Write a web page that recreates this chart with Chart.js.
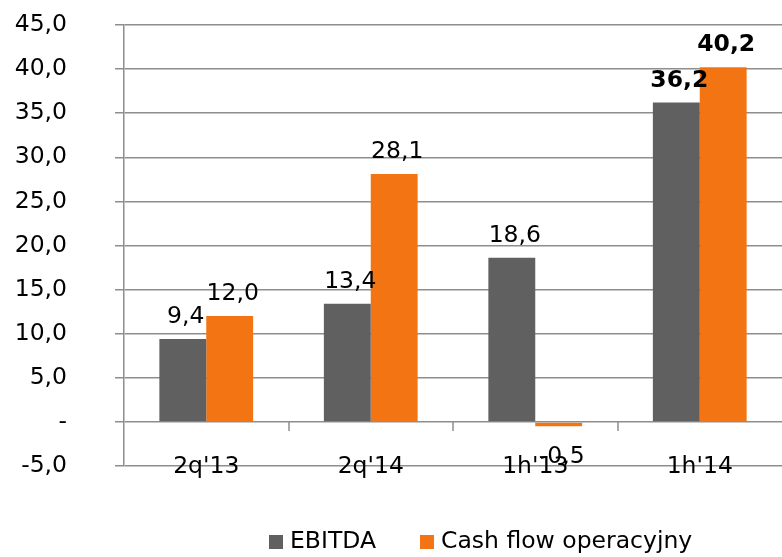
<!doctype html>
<html lang="pl">
<head>
  <meta charset="utf-8">
  <title>EBITDA i Cash flow</title>
  <style>
    html, body { margin: 0; padding: 0; background: #fff; overflow: hidden; }
    #wrap { width: 782px; height: 557px; }
  </style>
</head>
<body>
  <div id="wrap"><canvas id="wykres"></canvas></div>

  <script src="https://cdn.jsdelivr.net/npm/chart.js"></script>
  <script>
    // dane
    const kategorie = ["2q'13", "2q'14", "1h'13", "1h'14"];
    const ebitda = [9.4, 13.4, 18.6, 36.2];
    const cashFlow = [12.0, 28.1, -0.5, 40.2];
    const etykietyY = ['-5,0', '-', '5,0', '10,0', '15,0', '20,0', '25,0', '30,0', '35,0', '40,0', '45,0'];
    const pogrubione = [false, false, false, true]; // ostatnia grupa pogrubiona

    const szary = '#606060';
    const pomarancz = '#f37413';
    const siatka = '#8e8e8e';
    const czcionka = 'DejaVu Sans';
    const rozmiar = 23.5;

    const fmt = v => v.toFixed(1).replace('.', ',');

    // etykiety nad słupkami
    const etykietyDanych = {
      id: 'etykietyDanych',
      afterDatasetsDraw(chart) {
        const ctx = chart.ctx;
        ctx.save();
        ctx.fillStyle = '#000';
        ctx.textAlign = 'center';
        ctx.textBaseline = 'alphabetic';
        chart.data.datasets.forEach((ds, di) => {
          chart.getDatasetMeta(di).data.forEach((bar, i) => {
            const v = ds.data[i];
            ctx.font = (pogrubione[i] ? 'bold ' : '') + rozmiar + 'px "' + czcionka + '"';
            const y = v >= 0 ? bar.y - 16 : bar.y + 37;
            ctx.fillText(fmt(v), bar.x + 3, y);
          });
        });
        ctx.restore();
      }
    };

    // kategorie, kreski na linii zera, legenda
    const dodatki = {
      id: 'dodatki',
      afterDraw(chart) {
        const ctx = chart.ctx;
        const x = chart.scales.x;
        const y = chart.scales.y;
        const y0 = Math.round(y.getPixelForValue(0));
        ctx.save();
        ctx.strokeStyle = siatka;
        ctx.lineWidth = 1.5;
        for (let i = 0; i < kategorie.length - 1; i++) {
          const xx = Math.round((x.getPixelForValue(i) + x.getPixelForValue(i + 1)) / 2);
          ctx.beginPath();
          ctx.moveTo(xx, y0);
          ctx.lineTo(xx, y0 + 9);
          ctx.stroke();
        }

        // podpisy kategorii na wysokości -5
        ctx.font = rozmiar + 'px "' + czcionka + '"';
        ctx.fillStyle = '#000';
        ctx.textAlign = 'center';
        ctx.textBaseline = 'alphabetic';
        const yk = y.getPixelForValue(-5) + 7;
        kategorie.forEach((k, i) => ctx.fillText(k, x.getPixelForValue(i), yk));

        // legenda
        ctx.textBaseline = 'middle';
        ctx.textAlign = 'left';
        let lx = 269;
        const ly = 542;
        chart.data.datasets.forEach(ds => {
          ctx.fillStyle = ds.backgroundColor;
          ctx.fillRect(lx, ly - 7, 14, 14);
          ctx.fillStyle = '#000';
          ctx.fillText(ds.label, lx + 21, ly);
          lx += 21 + ctx.measureText(ds.label).width + 44;
        });
        ctx.restore();
      }
    };

    new Chart(document.getElementById('wykres'), {
      type: 'bar',
      data: {
        labels: kategorie,
        datasets: [
          { label: 'EBITDA', data: ebitda, backgroundColor: szary },
          { label: 'Cash flow operacyjny', data: cashFlow, backgroundColor: pomarancz }
        ]
      },
      options: {
        responsive: true,
        maintainAspectRatio: false,
        animation: false,
        layout: { padding: { top: 25, right: 0, bottom: 83, left: 0 } },
        datasets: { bar: { categoryPercentage: 0.57, barPercentage: 1 } },
        plugins: {
          legend: { display: false },
          tooltip: { enabled: false }
        },
        scales: {
          x: {
            grid: { display: false },
            border: { display: false },
            ticks: { display: false }
          },
          y: {
            min: -5,
            max: 45,
            grid: { color: siatka, lineWidth: 1.5, tickLength: 9 },
            border: { color: siatka, width: 1.5 },
            ticks: {
              stepSize: 5,
              color: '#000',
              font: { family: czcionka, size: rozmiar },
              padding: 48,
              callback: (v, i) => etykietyY[i]
            },
            afterFit: s => {
              s.width = 124;
              s.paddingTop = 0;
              s.paddingBottom = 0;
            }
          }
        }
      },
      plugins: [etykietyDanych, dodatki]
    });
  </script>
</body>
</html>
